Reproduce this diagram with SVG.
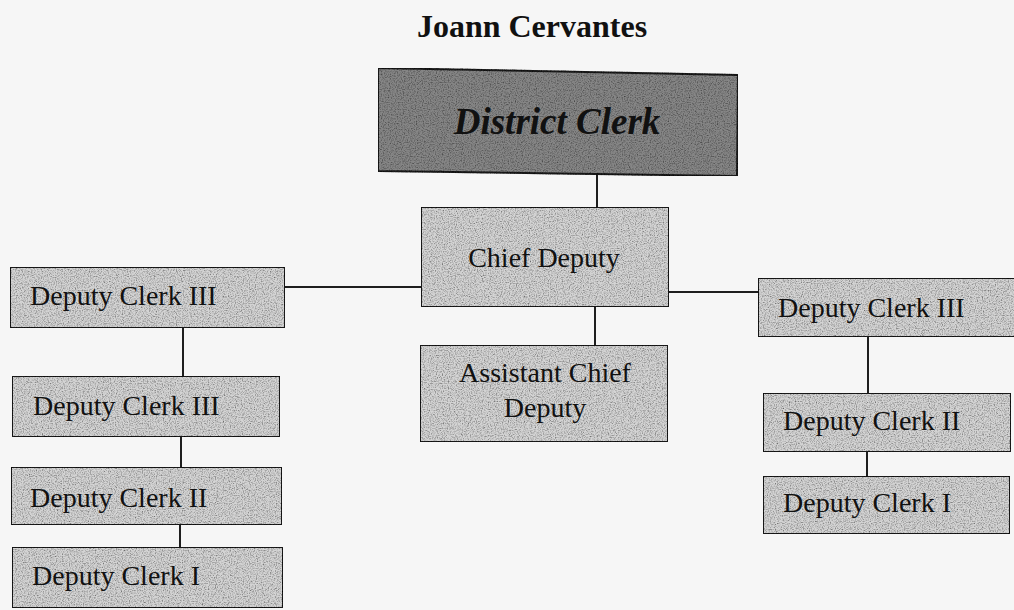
<svg xmlns="http://www.w3.org/2000/svg" width="1014" height="610" viewBox="0 0 1014 610">
  <defs>
    <filter id="speck" x="0" y="0" width="100%" height="100%">
      <feTurbulence type="fractalNoise" baseFrequency="0.85" numOctaves="2" seed="7" result="t"/>
      <feColorMatrix in="t" type="matrix" values="0 0 0 0 0  0 0 0 0 0  0 0 0 0 0  0 0 0 -1.6 0.95" result="dots"/>
      <feComposite in="dots" in2="SourceGraphic" operator="in" result="d2"/>
      <feMerge><feMergeNode in="SourceGraphic"/><feMergeNode in="d2"/></feMerge>
    </filter>
  </defs>
  <style>
    .box { fill: #d4d4d4; stroke: #1e1e1e; stroke-width: 2; }
    .dark { fill: #868686; stroke: #1e1e1e; stroke-width: 2; }
    .lbl { font-family: "Liberation Serif", "Times New Roman", serif; font-size: 28px; fill: #111; }
    .c { text-anchor: middle; }
    .conn line { stroke: #1e1e1e; stroke-width: 2; }
  </style>
  <rect x="0" y="0" width="1014" height="610" fill="#f6f6f6"/>

  <g id="title">
    <text x="532" y="37" class="lbl c" style="font-weight:bold;font-size:32px">Joann Cervantes</text>
  </g>

  <g class="conn" id="connectors">
    <line x1="597" y1="172" x2="597" y2="207"/>
    <line x1="285" y1="287" x2="421" y2="287"/>
    <line x1="669" y1="292" x2="758" y2="292"/>
    <line x1="595" y1="307" x2="595" y2="345"/>
    <line x1="183" y1="328" x2="183" y2="376"/>
    <line x1="181" y1="437" x2="181" y2="467"/>
    <line x1="180" y1="525" x2="180" y2="547"/>
    <line x1="868" y1="337" x2="868" y2="393"/>
    <line x1="867" y1="452" x2="867" y2="476"/>
  </g>

  <g id="district-clerk">
    <polygon class="dark" filter="url(#speck)" points="378,68 738,75 737,176 378,171"/>
    <text x="557" y="134" class="lbl c" style="font-weight:bold;font-style:italic;font-size:37px">District Clerk</text>
  </g>

  <g id="chief-deputy">
    <rect class="box" filter="url(#speck)" x="421" y="207" width="248" height="100"/>
    <text x="544" y="267" class="lbl c">Chief Deputy</text>
  </g>

  <g id="assistant-chief-deputy">
    <rect class="box" filter="url(#speck)" x="420" y="345" width="248" height="97"/>
    <text x="545" y="382" class="lbl c">Assistant Chief</text>
    <text x="545" y="417" class="lbl c">Deputy</text>
  </g>

  <g id="left-deputy-clerk-iii-a">
    <rect class="box" filter="url(#speck)" x="10" y="267" width="275" height="61"/>
    <text x="30" y="305" class="lbl">Deputy Clerk III</text>
  </g>

  <g id="left-deputy-clerk-iii-b">
    <rect class="box" filter="url(#speck)" x="12" y="376" width="268" height="61"/>
    <text x="33" y="415" class="lbl">Deputy Clerk III</text>
  </g>

  <g id="left-deputy-clerk-ii">
    <rect class="box" filter="url(#speck)" x="11" y="467" width="271" height="58"/>
    <text x="30" y="507" class="lbl">Deputy Clerk II</text>
  </g>

  <g id="left-deputy-clerk-i">
    <rect class="box" filter="url(#speck)" x="12" y="547" width="271" height="61"/>
    <text x="32" y="585" class="lbl">Deputy Clerk I</text>
  </g>

  <g id="right-deputy-clerk-iii">
    <rect class="box" filter="url(#speck)" x="758" y="278" width="262" height="59"/>
    <text x="778" y="317" class="lbl">Deputy Clerk III</text>
  </g>

  <g id="right-deputy-clerk-ii">
    <rect class="box" filter="url(#speck)" x="763" y="393" width="248" height="59"/>
    <text x="783" y="430" class="lbl">Deputy Clerk II</text>
  </g>

  <g id="right-deputy-clerk-i">
    <rect class="box" filter="url(#speck)" x="763" y="476" width="247" height="58"/>
    <text x="783" y="512" class="lbl">Deputy Clerk I</text>
  </g>
</svg>
